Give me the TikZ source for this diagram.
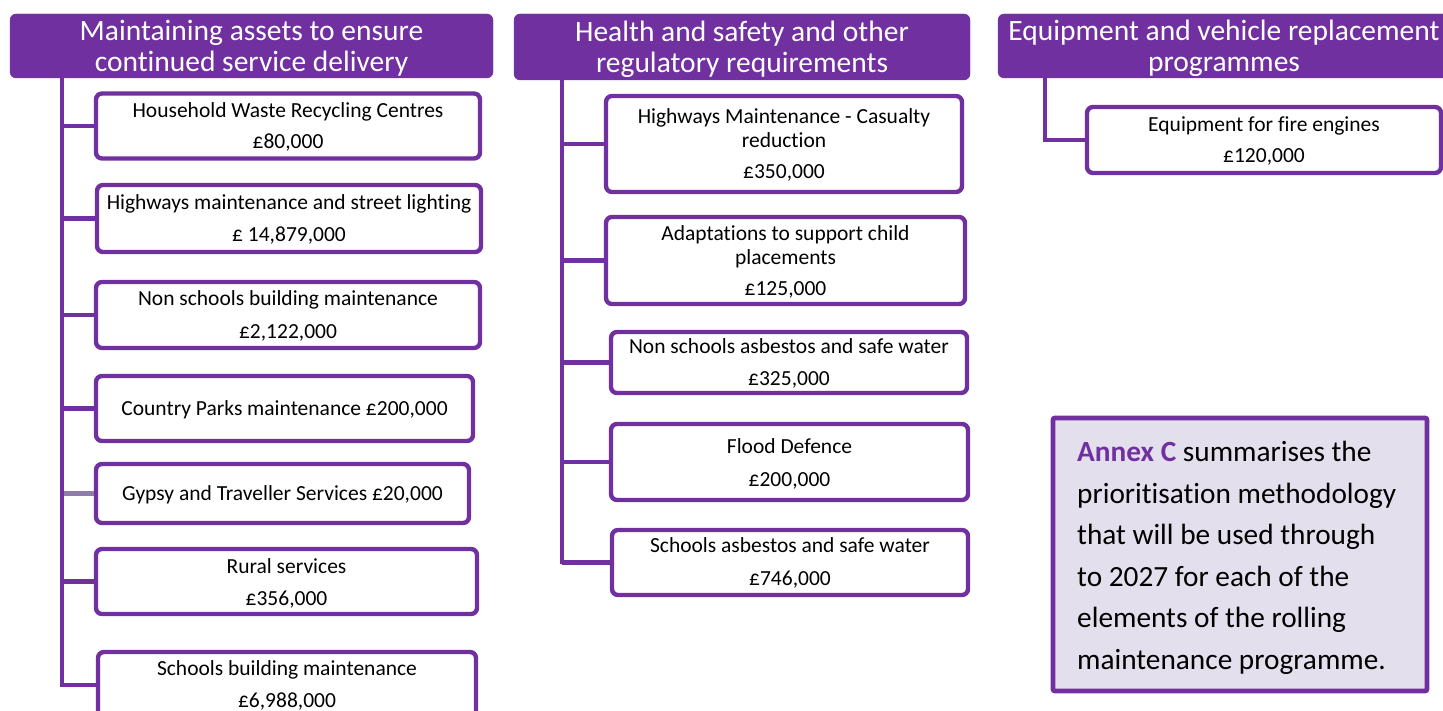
\documentclass[tikz,border=0pt]{standalone}
\usepackage{fontspec}
\setmainfont{Carlito}[Ligatures=NoCommon]
\definecolor{pur}{HTML}{7030A0}
\definecolor{lav}{HTML}{E4DFEC}
\definecolor{gcon}{HTML}{8E7CAB}
\tikzset{
  hdr/.style={fill=pur, draw=pur, rounded corners=6pt, inner sep=0pt},
  hdrtxt/.style={text=white, font=\fontsize{29.5}{32}\selectfont, anchor=base, inner sep=0pt},
  itembox/.style={draw=pur, line width=4.4pt, fill=white, rounded corners=6pt, inner sep=0pt},
  itemtxt/.style={font=\fontsize{21.5}{23}\selectfont, anchor=base, inner sep=0pt},
  conn/.style={draw=pur, line width=4.4pt},
  anntxt/.style={font=\fontsize{29.3}{30}\selectfont, anchor=base west, inner sep=0pt},
}
\begin{document}
\begin{tikzpicture}[x=1pt,y=-1pt]
\useasboundingbox (0,0) rectangle (1443,711);
\clip (0,0) rectangle (1443,711);
% headers
\node[hdr, minimum width=483pt, minimum height=64pt] (h1) at (251.5,46) {};
\node[hdrtxt] (h1a) at (251.5,40.5) {Maintaining assets to ensure};
\node[hdrtxt] (h1b) at (251.5,72) {continued service delivery};
\node[hdr, minimum width=456pt, minimum height=66pt] (h2) at (742,47) {};
\node[hdrtxt] (h2a) at (742,41.5) {Health and safety and other};
\node[hdrtxt] (h2b) at (742,73) {regulatory requirements};
\node[hdr, minimum width=456pt, minimum height=64pt] (h3) at (1226,46) {};
\node[hdrtxt] (h3a) at (1224,40.5) {Equipment and vehicle replacement};
\node[hdrtxt] (h3b) at (1224,72) {programmes};
% trunks
\coordinate (t1s) at (62,78);
\coordinate (t1e) at (62,686.5);
\coordinate (t2s) at (562,80);
\coordinate (t2e) at (562,563.5);
\coordinate (t3s) at (1045,78);
% column 1 boxes
\node[itembox, minimum width=384pt, minimum height=65pt] (b1) at (288,126) {};
\node[itembox, minimum width=384pt, minimum height=67pt] (b2) at (289,218.5) {};
\node[itembox, minimum width=384pt, minimum height=66pt] (b3) at (288,315) {};
\node[itembox, minimum width=377pt, minimum height=65pt] (b4) at (284.5,408.5) {};
\node[itembox, minimum width=373pt, minimum height=59pt] (b5) at (282.5,493.5) {};
\node[itembox, minimum width=381pt, minimum height=65pt] (b6) at (286.5,581.5) {};
\node[itembox, minimum width=378pt, minimum height=66pt] (b7) at (287,685) {};
\draw[conn] (t1s) -- (t1e);
\draw[conn] (b1.west -| t1s) -- (b1.west);
\draw[conn] (b2.west -| t1s) -- (b2.west);
\draw[conn] (b3.west -| t1s) -- (b3.west);
\draw[conn] (b4.west -| t1s) -- (b4.west);
\draw[conn, draw=gcon] ([xshift=2.2pt]b5.west -| t1s) -- (b5.west);
\draw[conn] (b6.west -| t1s) -- (b6.west);
\draw[conn] (b7.west -| t1s) -- (b7.west);
\node[itemtxt] (b1a) at (288,117.5) {Household Waste Recycling Centres};
\node[itemtxt] (b1b) at (288,149) {£80,000};
\node[itemtxt] (b2a) at (289,209.5) {Highways maintenance and street lighting};
\node[itemtxt] (b2b) at (289,242) {£ 14,879,000};
\node[itemtxt] (b3a) at (288,305.5) {Non schools building maintenance};
\node[itemtxt] (b3b) at (288,338) {£2,122,000};
\node[itemtxt] (b4a) at (284.5,415.5) {Country Parks maintenance £200,000};
\node[itemtxt] (b5a) at (282.5,500.5) {Gypsy and Traveller Services £20,000};
\node[itemtxt] (b6a) at (286.5,573) {Rural services};
\node[itemtxt] (b6b) at (286.5,605.5) {£356,000};
\node[itemtxt] (b7a) at (287,675.5) {Schools building maintenance};
\node[itemtxt] (b7b) at (287,707.5) {£6,988,000};
% column 2 boxes
\node[itembox, minimum width=356pt, minimum height=96pt] (c1) at (784,144) {};
\node[itembox, minimum width=359pt, minimum height=87pt] (c2) at (785.5,260.5) {};
\node[itembox, minimum width=356pt, minimum height=61pt] (c3) at (789,362.5) {};
\node[itembox, minimum width=357pt, minimum height=76pt] (c4) at (789.5,462) {};
\node[itembox, minimum width=356pt, minimum height=65pt] (c5) at (790,562.5) {};
\draw[conn] (t2s) -- (t2e);
\draw[conn] (c1.west -| t2s) -- (c1.west);
\draw[conn] (c2.west -| t2s) -- (c2.west);
\draw[conn] (c3.west -| t2s) -- (c3.west);
\draw[conn] (c4.west -| t2s) -- (c4.west);
\draw[conn] (c5.west -| t2s) -- (c5.west);
\node[itemtxt] (c1a) at (784,123.5) {Highways Maintenance - Casualty};
\node[itemtxt] (c1b) at (784,147.5) {reduction};
\node[itemtxt] (c1c) at (784,179) {£350,000};
\node[itemtxt] (c2a) at (785.5,240.5) {Adaptations to support child};
\node[itemtxt] (c2b) at (785.5,264.5) {placements};
\node[itemtxt] (c2c) at (785.5,296) {£125,000};
\node[itemtxt] (c3a) at (789,353.5) {Non schools asbestos and safe water};
\node[itemtxt] (c3b) at (789,385) {£325,000};
\node[itemtxt] (c4a) at (789.5,453.5) {Flood Defence};
\node[itemtxt] (c4b) at (789.5,486) {£200,000};
\node[itemtxt] (c5a) at (790,552.5) {Schools asbestos and safe water};
\node[itemtxt] (c5b) at (790,585) {£746,000};
% column 3
\node[itembox, minimum width=354pt, minimum height=66pt] (d1) at (1264,140) {};
\draw[conn] (t3s) |- (d1.west);
\node[itemtxt] (d1a) at (1264,131.5) {Equipment for fire engines};
\node[itemtxt] (d1b) at (1264,163) {£120,000};
% annex
\node[draw=pur, line width=4.8pt, fill=lav, rounded corners=2pt, minimum width=374pt, minimum height=273pt, inner sep=0pt] (ann) at (1240,554.5) {};
\node[anntxt] (an1) at (1077,461.5) {\textbf{\textcolor{pur}{Annex C}} summarises the};
\node[anntxt] (an2) at (1077,503) {prioritisation methodology};
\node[anntxt] (an3) at (1077,544.5) {that will be used through};
\node[anntxt] (an4) at (1077,586) {to 2027 for each of the};
\node[anntxt] (an5) at (1077,627.5) {elements of the rolling};
\node[anntxt] (an6) at (1077,669) {maintenance programme.};
\end{tikzpicture}
\end{document}
